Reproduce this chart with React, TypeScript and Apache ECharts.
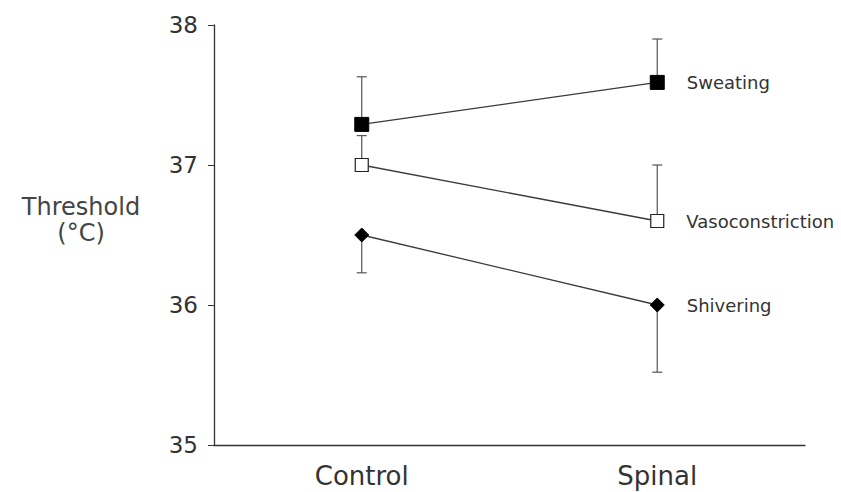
import React, { useEffect, useRef } from "react";
import * as echarts from "echarts";

const categories = ["Control", "Spinal"];
const sweating = [37.29, 37.59];
const sweatingUpper = [37.63, 37.9];
const vasoconstriction = [37.0, 36.6];
const vasoUpper = [37.21, 37.0];
const shivering = [36.5, 36.0];
const shiveringLower = [36.23, 35.52];
const yTicks = [35, 36, 37, 38];
const yTitleLines = ["Threshold", "(°C)"];

const errorData = [
  ...categories.map((_, i) => [i, sweating[i], sweatingUpper[i]]),
  ...categories.map((_, i) => [i, vasoconstriction[i], vasoUpper[i]]),
  ...categories.map((_, i) => [i, shivering[i], shiveringLower[i]]),
];

const lineColor = "#3a3a3a";
const labelFont = "DejaVu Sans";

function endLabel(name: string) {
  return {
    show: true,
    position: "right" as const,
    distance: 22,
    formatter: name,
    color: "#333",
    fontSize: 18,
    fontFamily: labelFont,
  };
}

function makeData(values: number[], name: string) {
  return values.map((v, i) =>
    i === values.length - 1 ? { value: v, label: endLabel(name) } : { value: v, label: { show: false } }
  );
}

export default function App() {
  const ref = useRef<HTMLDivElement>(null);
  useEffect(() => {
    document.body.style.margin = "0";
    if (!ref.current) return;
    const chart = echarts.init(ref.current, null, { renderer: "svg" });
    chart.setOption({
      animation: false,
      backgroundColor: "#fff",
      grid: { left: 214, right: 36, top: 25, bottom: 47 },
      xAxis: {
        type: "category",
        data: categories,
        boundaryGap: true,
        axisLine: { lineStyle: { color: "#333", width: 1.3 } },
        axisTick: { alignWithLabel: true, length: 5, lineStyle: { color: "#333" } },
        axisLabel: { color: "#333", fontSize: 26, fontFamily: labelFont, margin: 18 },
        splitLine: { show: false },
      },
      yAxis: {
        type: "value",
        min: yTicks[0],
        max: yTicks[yTicks.length - 1],
        interval: 1,
        axisLine: { show: true, lineStyle: { color: "#333", width: 1.3 } },
        axisTick: { show: true, length: 6, lineStyle: { color: "#333" } },
        axisLabel: { color: "#333", fontSize: 23, fontFamily: labelFont, margin: 16 },
        splitLine: { show: false },
      },
      graphic: yTitleLines.map((t, i) => ({
        type: "text",
        x: 81,
        y: 207 + i * 26,
        style: {
          text: t,
          align: "center",
          verticalAlign: "middle",
          fill: "#444",
          fontSize: 24,
          fontFamily: labelFont,
        },
      })),
      series: [
        {
          type: "custom",
          name: "errors",
          z: 1,
          data: errorData,
          encode: { x: 0, y: [1, 2] },
          renderItem: (params: any, api: any) => {
            const x = api.value(0);
            const p1 = api.coord([x, api.value(1)]);
            const p2 = api.coord([x, api.value(2)]);
            const style = { stroke: "#555", lineWidth: 1.2 };
            return {
              type: "group",
              children: [
                { type: "line", shape: { x1: p1[0], y1: p1[1], x2: p2[0], y2: p2[1] }, style },
                { type: "line", shape: { x1: p2[0] - 5, y1: p2[1], x2: p2[0] + 5, y2: p2[1] }, style },
              ],
            };
          },
        },
        {
          type: "line",
          name: "Sweating",
          z: 3,
          data: makeData(sweating, "Sweating"),
          symbol: "rect",
          symbolSize: 14,
          itemStyle: { color: "#000", borderColor: "#000" },
          lineStyle: { color: lineColor, width: 1.3 },
        },
        {
          type: "line",
          name: "Vasoconstriction",
          z: 3,
          data: makeData(vasoconstriction, "Vasoconstriction"),
          symbol: "rect",
          symbolSize: 13,
          itemStyle: { color: "#fff", borderColor: "#222", borderWidth: 1.2 },
          lineStyle: { color: lineColor, width: 1.3 },
        },
        {
          type: "line",
          name: "Shivering",
          z: 3,
          data: makeData(shivering, "Shivering"),
          symbol: "diamond",
          symbolSize: 14,
          itemStyle: { color: "#000", borderColor: "#000" },
          lineStyle: { color: lineColor, width: 1.3 },
        },
      ],
    });
    return () => chart.dispose();
  }, []);
  return <div ref={ref} style={{ width: 841, height: 492 }} />;
}
